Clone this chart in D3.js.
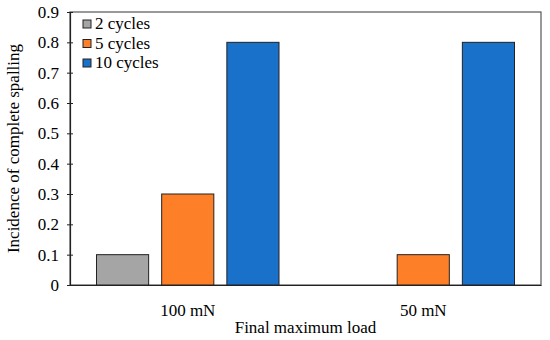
<!DOCTYPE html>
<html>
  <head>
    <title>Incidence of complete spalling</title>
    <script src="https://d3js.org/d3.v7.min.js"></script>
  </head>
  <body style="margin:0">
    <script>
      var width = 550;
      var height = 340;
      var margin = {top: 12, right: 9, bottom: 55, left: 70};

      var loads = ["100 mN", "50 mN"];
      var cycles = ["2 cycles", "5 cycles", "10 cycles"];
      var colors = ["#a5a5a5", "#fd7f27", "#1a71c9"];
      var values2 = [0.1, 0];
      var values5 = [0.3, 0.1];
      var values10 = [0.8, 0.8];
      var yTicks = [0, 0.1, 0.2, 0.3, 0.4, 0.5, 0.6, 0.7, 0.8, 0.9];

      var seriesValues = [values2, values5, values10];
      var data = [];
      loads.forEach(function(load, i) {
        cycles.forEach(function(c, j) {
          data.push({load: load, cycle: c, value: seriesValues[j][i], color: colors[j]});
        });
      });

      var plotW = width - margin.left - margin.right;
      var plotH = height - margin.top - margin.bottom;

      var xScale = d3.scaleBand()
          .domain(loads)
          .range([0, plotW]);

      var xInner = d3.scaleBand()
          .domain(cycles)
          .range([26.5, xScale.bandwidth() - 26.5])
          .paddingInner(0.2);

      var yScale = d3.scaleLinear()
          .domain([0, 0.9])
          .range([plotH, 0]);

      var svg = d3.select("body")
        .append("svg")
          .attr("width", width)
          .attr("height", height);

      var g = svg.append("g")
          .attr("transform", "translate(" + margin.left + "," + margin.top + ")");

      // plot frame
      g.append("rect")
          .attr("width", plotW)
          .attr("height", plotH)
          .attr("fill", "none")
          .attr("stroke", "#555")
          .attr("stroke-width", 1.2);

      // bars
      g.selectAll("rect.bar")
        .data(data.filter(function(d) { return d.value > 0; }))
        .enter()
        .append("rect")
          .classed("bar", true)
          .attr("x", function(d) { return xScale(d.load) + xInner(d.cycle); })
          .attr("y", function(d) { return yScale(d.value); })
          .attr("width", xInner.bandwidth())
          .attr("height", function(d) { return plotH - yScale(d.value); })
          .attr("fill", function(d) { return d.color; })
          .attr("stroke", "#222")
          .attr("stroke-width", 1);

      // y axis
      var yAxis = d3.axisLeft(yScale)
          .tickValues(yTicks)
          .tickFormat(function(d) { return d === 0 ? "0" : d3.format(".1f")(d); })
          .tickSize(3)
          .tickPadding(8);

      var yg = g.append("g").call(yAxis);
      yg.select(".domain").attr("stroke", "#222").attr("stroke-width", 1.2);
      yg.selectAll(".tick line").attr("stroke", "#222").attr("x1", -3).attr("x2", 3);

      // x axis
      var xAxis = d3.axisBottom(xScale).tickSize(0).tickPadding(19);
      var xg = g.append("g")
          .attr("transform", "translate(0," + plotH + ")")
          .call(xAxis);
      xg.select(".domain").attr("stroke", "#222").attr("stroke-width", 1.2);

      // axis titles
      svg.append("text")
          .attr("x", margin.left + plotW / 2)
          .attr("y", 333)
          .attr("text-anchor", "middle")
          .text("Final maximum load");

      svg.append("text")
          .attr("transform", "translate(19," + (margin.top + plotH / 2) + ") rotate(-90)")
          .attr("text-anchor", "middle")
          .text("Incidence of complete spalling");

      // legend
      var items = g.append("g")
          .attr("transform", "translate(13,8)")
        .selectAll("g")
        .data(cycles)
        .enter()
        .append("g")
          .attr("transform", function(d, i) { return "translate(0," + (i * 19.5) + ")"; });

      items.append("rect")
          .attr("width", 8)
          .attr("height", 8)
          .attr("fill", function(d, i) { return colors[i]; })
          .attr("stroke", "#222")
          .attr("stroke-width", 1);

      items.append("text")
          .attr("x", 12)
          .attr("y", 9)
          .text(function(d) { return d; });

      // one font for every text, set last so the axis defaults are overridden
      svg.selectAll("g").attr("font-family", null).attr("font-size", null);
      svg.selectAll("text")
          .attr("font-family", "Liberation Serif")
          .attr("font-size", 17)
          .attr("fill", "#000")
          .style("font", "17px 'Liberation Serif'");
    </script>
  </body>
</html>
